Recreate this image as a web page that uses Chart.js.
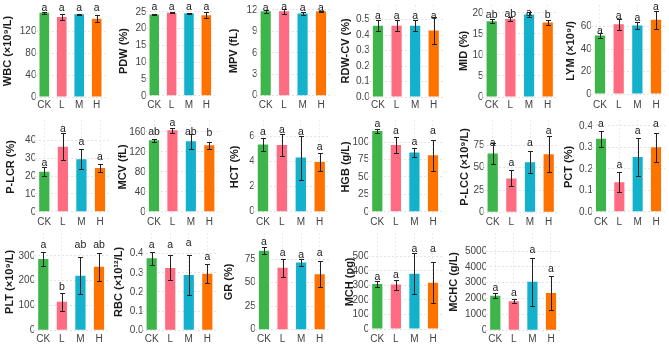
<!DOCTYPE html>
<html>
<head>
<meta charset="utf-8">
<script src="https://cdn.jsdelivr.net/npm/chart.js@4.4.0/dist/chart.umd.min.js"></script>
<style>
  body { margin: 0; background: #fff; width: 669px; height: 344px; position: relative; overflow: hidden; }
  .panel { position: absolute; }
</style>
</head>
<body>
<script>
// groups and colours
const groups = ["CK", "L", "M", "H"];
const barColors = ["#3db54a", "#ff6b81", "#13b1cb", "#ff7200"];

// one entry per panel, row by row
const titles = [
  "WBC (×10⁹/L)", "PDW (%)", "MPV (fL)", "RDW-CV (%)", "MID (%)", "LYM (×10⁹/)",
  "P-LCR (%)", "MCV (fL)", "HCT (%)", "HGB (g/L)", "P-LCC (×10⁹/L)", "PCT (%)",
  "PLT (×10⁹/L)", "RBC (×10¹²/L)", "GR (%)", "MCH (pg)", "MCHC (g/L)"
];

const means = [
  [154, 146, 151, 143], [24.2, 24.7, 24.6, 24.0], [11.8, 11.8, 11.5, 11.8],
  [0.46, 0.46, 0.46, 0.43], [18.0, 18.5, 19.6, 17.7], [52, 62, 61, 66],
  [22.5, 36.5, 29.5, 24.5], [143, 163, 141, 133], [5.35, 5.3, 4.3, 3.95],
  [116, 96, 85, 81], [66, 38, 56, 65], [0.34, 0.137, 0.255, 0.30],
  [287, 115, 220, 256], [0.375, 0.325, 0.288, 0.295], [84, 66, 71.5, 59],
  [310, 305, 380, 318], [2180, 1840, 3060, 2350]
];

const errors = [
  [1.5, 5, 1.5, 6], [0.25, 0.15, 0.15, 0.8], [0.2, 0.35, 0.2, 0.1],
  [0.035, 0.035, 0.035, 0.09], [0.5, 0.5, 0.6, 0.6], [2, 5, 3, 8],
  [2.5, 7.5, 5.5, 2.3], [3, 5, 15, 7], [0.5, 0.9, 1.75, 0.75],
  [3, 11, 7, 22], [12, 9, 12.5, 20], [0.038, 0.047, 0.088, 0.068],
  [28, 37, 75, 57], [0.035, 0.065, 0.105, 0.048], [3.5, 9.5, 3.5, 14],
  [22, 35, 140, 142], [170, 130, 1520, 1050]
];

const letters = [
  ["a", "a", "a", "a"], ["a", "a", "a", "a"], ["a", "a", "a", "a"],
  ["a", "a", "a", "a"], ["ab", "ab", "a", "b"], ["a", "a", "a", "a"],
  ["a", "a", "a", "a"], ["ab", "a", "ab", "b"], ["a", "a", "a", "a"],
  ["a", "a", "a", "a"], ["a", "a", "a", "a"], ["a", "a", "a", "a"],
  ["a", "b", "ab", "ab"], ["a", "a", "a", "a"], ["a", "a", "a", "a"],
  ["a", "a", "a", "a"], ["a", "a", "a", "a"]
];

// height (in axis units) at which each letter sits
const letterAt = [
  [163, 163, 163, 163], [26.4, 26.4, 26.4, 26.4], [12.3, 12.4, 12.3, 12.3],
  [0.525, 0.525, 0.525, 0.525], [19.4, 19.6, 20.0, 19.4], [55.8, 69.6, 67.2, 77.6],
  [27.2, 46.3, 39.1, 30.9], [158.6, 178, 158.6, 157.3], [6.31, 6.49, 6.31, 5.1],
  [126.5, 115.3, 100, 116.3], [77.5, 55, 77.5, 91.3], [0.41, 0.219, 0.374, 0.41],
  [342, 176, 342, 342], [0.442, 0.442, 0.454, 0.38], [93.3, 81.9, 79.5, 81.2],
  [355, 373, 545, 545], [2635, 2328, 5086, 3860]
];

const tickLabels = [
  ["0", "40", "80", "120"], ["0", "5", "10", "15", "20", "25"], ["0", "3", "6", "9", "12"],
  ["0.0", "0.1", "0.2", "0.3", "0.4", "0.5"], ["0", "5", "10", "15", "20"], ["0", "20", "40", "60"],
  ["0", "10", "20", "30", "40"], ["0", "40", "80", "120", "160"], ["0", "2", "4", "6"],
  ["0", "25", "50", "75", "100"], ["0", "25", "50", "75"], ["0.0", "0.1", "0.2", "0.3", "0.4"],
  ["0", "100", "200", "300"], ["0.0", "0.1", "0.2", "0.3", "0.4"], ["0", "25", "50", "75"],
  ["0", "100", "200", "300", "400", "500"], ["0", "1000", "2000", "3000", "4000", "5000"]
];

const yRanges = [
  [0, 168], [-0.37, 27.0], [-0.18, 12.7], [0, 0.596], [0, 21.9], [-2.6, 79.3],
  [-1.25, 51.6], [-4.5, 183.9], [-0.18, 7.31], [-3.2, 132], [-1.85, 103.6], [-0.0104, 0.428],
  [-2.7, 393], [-0.0035, 0.508], [-1.35, 103], [-13, 660], [-43, 6146]
];

// placement: [row, title centre x, CK centre x, H centre x]
const placement = [
  [0, 8, 44.3, 96.7], [0, 124, 154.3, 206.3], [0, 233.5, 265.7, 321], [0, 345.5, 378, 433.7], [0, 464, 491.7, 547.7], [0, 571, 600, 656],
  [1, 11, 44.3, 100], [1, 122.5, 154, 209.3], [1, 234.5, 263, 319.7], [1, 345.5, 377.3, 433], [1, 464.5, 492.7, 548.7], [1, 568.5, 601, 656],
  [2, 9.5, 43.3, 99], [2, 119, 151.7, 207.3], [2, 228.5, 264, 319.7], [2, 350, 377.3, 433], [2, 454, 495.3, 551]
];
const rowTop = [0, 115, 228];
const rowHeight = [115, 115, 116];
const axisBottom = [97, 214, 331];

const FONT = "'Liberation Sans', Arial, Helvetica, sans-serif";
Chart.defaults.font.family = FONT;

const errorBars = {
  id: "errorBars",
  afterDatasetsDraw(chart, args, opts) {
    const { ctx } = chart;
    const y = chart.scales.y;
    const meta = chart.getDatasetMeta(0);
    ctx.save();
    meta.data.forEach((bar, i) => {
      const m = opts.means[i], e = opts.errors[i];
      const x = Math.round(bar.x) + 0.5;
      const top = Math.round(y.getPixelForValue(m + e)) + 0.5;
      const bot = Math.round(y.getPixelForValue(m - e)) + 0.5;
      ctx.strokeStyle = "#222";
      ctx.lineWidth = 1;
      ctx.beginPath();
      ctx.moveTo(x, top); ctx.lineTo(x, bot);
      ctx.moveTo(x - 2.5, top); ctx.lineTo(x + 2.5, top);
      ctx.moveTo(x - 2.5, bot); ctx.lineTo(x + 2.5, bot);
      ctx.stroke();
      ctx.fillStyle = "#222";
      ctx.font = "10.5px " + FONT;
      ctx.textAlign = "center";
      ctx.textBaseline = "middle";
      ctx.fillText(opts.letters[i], bar.x, y.getPixelForValue(opts.letterAt[i]));
    });
    ctx.restore();
  }
};

titles.forEach((title, k) => {
  const [row, titleX, ckX, hX] = placement[k];
  const step = (hX - ckX) / 3;
  const left = Math.round(titleX - 7);
  const plotLeft = ckX - step / 2 - left;
  const plotRight = hX + step / 2 - left;
  const width = Math.ceil(plotRight) + 2;
  const top = rowTop[row], height = rowHeight[row];
  const xAxisHeight = top + height - axisBottom[row];
  const ticks = tickLabels[k];
  // tick labels end about 3px left of the first bar
  const tickPad = 3 - 0.225 * step;

  const div = document.createElement("div");
  div.className = "panel";
  div.style.left = left + "px";
  div.style.top = top + "px";
  const canvas = document.createElement("canvas");
  canvas.width = width;
  canvas.height = height;
  div.appendChild(canvas);
  document.body.appendChild(div);

  new Chart(canvas, {
    type: "bar",
    data: {
      labels: groups,
      datasets: [{
        data: means[k],
        backgroundColor: barColors,
        barPercentage: 0.55,
        categoryPercentage: 1
      }]
    },
    options: {
      responsive: false,
      animation: false,
      layout: { padding: { top: 2, left: 0, bottom: 0, right: width - plotRight } },
      plugins: {
        legend: { display: false },
        tooltip: { enabled: false },
        errorBars: { means: means[k], errors: errors[k], letters: letters[k], letterAt: letterAt[k] }
      },
      scales: {
        x: {
          offset: true,
          grid: { offset: false, color: "#ebebeb", drawTicks: false },
          border: { display: false, dash: [2, 2] },
          ticks: { font: { size: 10 }, color: "#444", padding: 2, maxRotation: 0 },
          afterFit: (s) => { s.height = xAxisHeight; }
        },
        y: {
          min: yRanges[k][0],
          max: yRanges[k][1],
          afterBuildTicks: (s) => { s.ticks = ticks.map((t) => ({ value: parseFloat(t) })); },
          ticks: {
            font: { size: 10 },
            color: "#444",
            padding: tickPad,
            callback: (v, i) => ticks[i]
          },
          grid: { color: "#e3e3e3", drawTicks: false },
          border: { display: false, dash: [2, 2] },
          title: {
            display: true,
            text: title,
            color: "#1a1a1a",
            font: { size: 11, weight: "bold" },
            padding: 0
          },
          afterFit: (s) => { s.width = plotLeft; }
        }
      }
    },
    plugins: [errorBars]
  });
});
</script>
</body>
</html>
